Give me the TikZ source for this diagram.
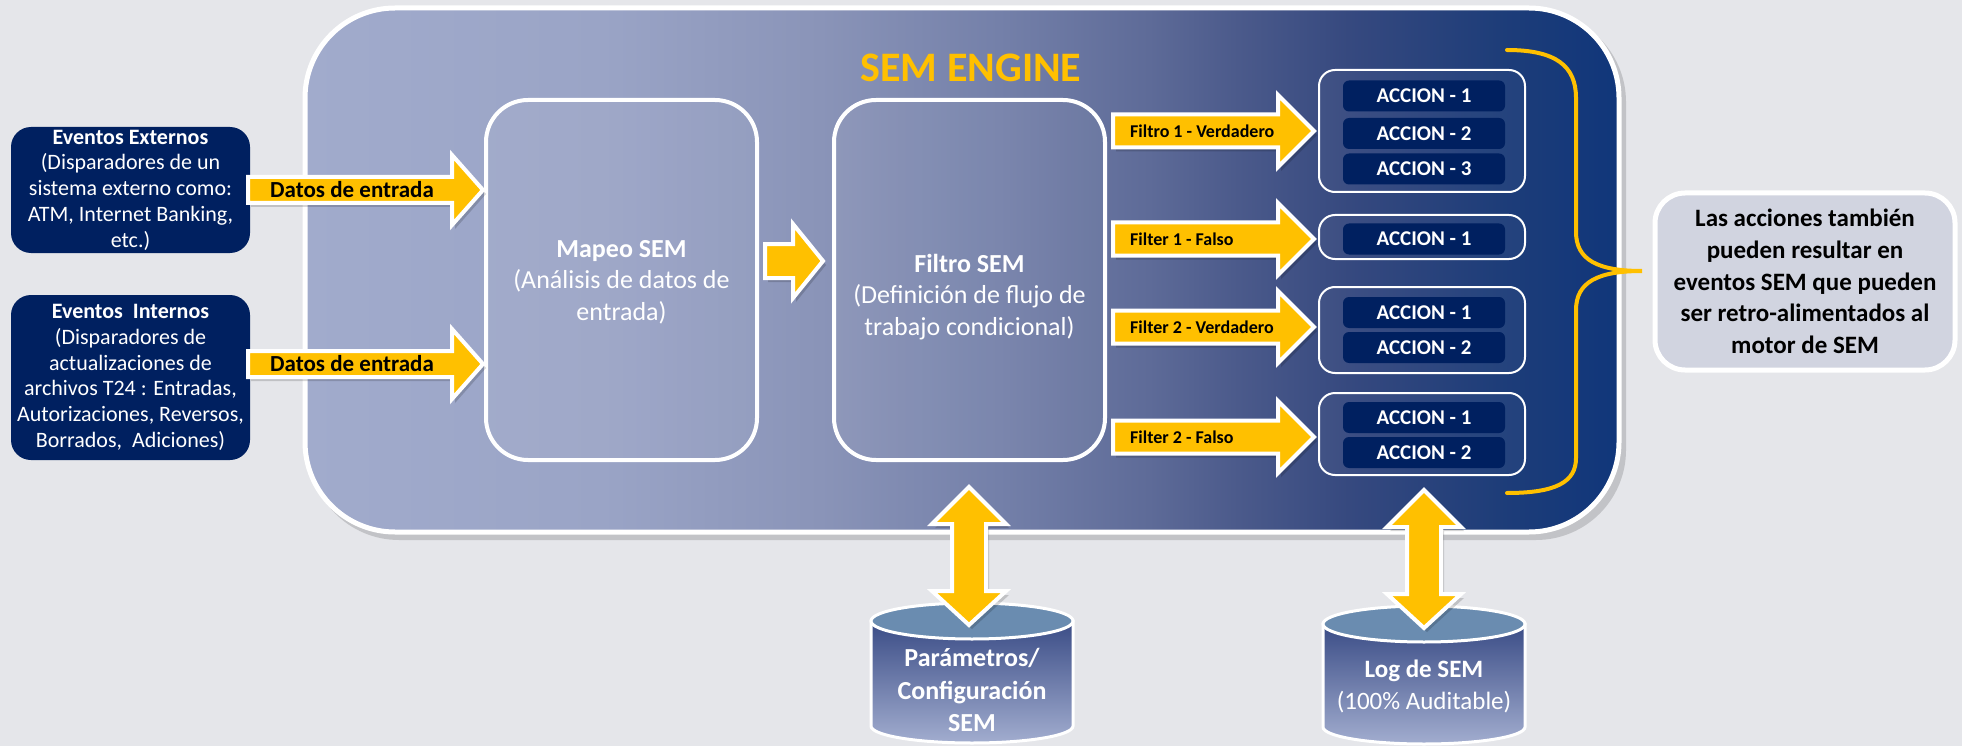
\documentclass[tikz,border=0pt]{standalone}
\usepackage{fontspec}
\setmainfont{Carlito}
\usetikzlibrary{calc}
\definecolor{navy}{HTML}{002060}
\definecolor{gold}{HTML}{FFC000}
\definecolor{bgc}{HTML}{E5E6EA}
\definecolor{notec}{HTML}{D1D4E0}
\definecolor{cyltopc}{HTML}{6A8CB0}
\definecolor{cylA}{HTML}{3A4C86}
\definecolor{cylB}{HTML}{A2ADCF}
\definecolor{s0}{HTML}{A1ABCC}
\definecolor{s1}{HTML}{9AA4C6}
\definecolor{s2}{HTML}{8A94B8}
\definecolor{s3}{HTML}{7480A9}
\definecolor{s4}{HTML}{5E6B98}
\definecolor{s5}{HTML}{4B5A8B}
\definecolor{s6}{HTML}{36497F}
\definecolor{s7}{HTML}{1E3D79}
\definecolor{s8}{HTML}{10367A}
\pgfdeclarehorizontalshading{semgrad}{100bp}{color(0bp)=(s0); color(25bp)=(s0); color(36.3bp)=(s1); color(44.6bp)=(s2); color(51.4bp)=(s3); color(57.1bp)=(s4); color(60.5bp)=(s5); color(64.7bp)=(s6); color(70.4bp)=(s7); color(75bp)=(s8); color(100bp)=(s8)}
\tikzset{
  evbox/.style={fill=navy, rounded corners=20pt, text=white, align=center, font=\fontsize{22}{25.7}\selectfont, inner sep=0pt},
  enginebox/.style={shade, shading=semgrad, draw=white, line width=5pt, rounded corners=90pt, inner sep=0pt},
  innerbox/.style={draw=white, line width=4pt, rounded corners=42pt, fill=white, fill opacity=0.05, inner sep=0pt},
  boxtext/.style={text=white, align=center, font=\fontsize{26}{31.5}\selectfont, inner sep=0pt},
  grpbox/.style={draw=white, line width=2pt, rounded corners=16pt, fill=white, fill opacity=0.03, inner sep=0pt, minimum width=206pt},
  actbox/.style={fill=navy, rounded corners=6pt, text=white, font=\bfseries\fontsize{21}{24}\selectfont, minimum width=162pt, minimum height=31pt, inner sep=0pt},
  blk/.style={fill=gold, draw=white, line width=4pt, line join=miter},
  blkshadow/.style={fill=black, fill opacity=0.16, shift={(3pt,-4pt)}},
  arrlbl/.style={font=\bfseries\fontsize{23}{26}\selectfont, anchor=west, inner sep=0pt},
  flbl/.style={font=\bfseries\fontsize{18}{21}\selectfont, anchor=west, inner sep=0pt},
  notebox/.style={fill=notec, draw=white, line width=5pt, rounded corners=30pt, align=center, font=\bfseries\fontsize{25}{31.6}\selectfont, inner sep=0pt},
  bracestyle/.style={draw=gold, line width=4pt, line cap=round},
  cylbody/.style={top color=cylA, bottom color=cylB, draw=white, line width=3pt},
  cyltop/.style={fill=cyltopc, draw=white, line width=3pt},
  cyltext/.style={text=white, align=center, inner sep=0pt},
}
% right-pointing block arrow: x0, xbase, xtip, y, shaft half, head half
\newcommand{\rblock}[6]{%
  \path[blkshadow] (#1,#4-#5) -- (#2,#4-#5) -- (#2,#4-#6) -- (#3,#4) -- (#2,#4+#6) -- (#2,#4+#5) -- (#1,#4+#5) -- cycle;
  \path[blk] (#1,#4-#5) -- (#2,#4-#5) -- (#2,#4-#6) -- (#3,#4) -- (#2,#4+#6) -- (#2,#4+#5) -- (#1,#4+#5) -- cycle;}
% vertical double arrow: x, ytip top, ybase top, ybase bottom, ytip bottom, shaft half, head half
\newcommand{\vdbl}[7]{%
  \path[blkshadow] (#1,#2) -- (#1+#7,#3) -- (#1+#6,#3) -- (#1+#6,#4) -- (#1+#7,#4) -- (#1,#5) -- (#1-#7,#4) -- (#1-#6,#4) -- (#1-#6,#3) -- (#1-#7,#3) -- cycle;
  \path[blk] (#1,#2) -- (#1+#7,#3) -- (#1+#6,#3) -- (#1+#6,#4) -- (#1+#7,#4) -- (#1,#5) -- (#1-#7,#4) -- (#1-#6,#4) -- (#1-#6,#3) -- (#1-#7,#3) -- cycle;}
% cylinder: cx, y top centre, y bottom centre, x radius
\newcommand{\cyl}[4]{%
  \path[cylbody] (#1-#4,#2) -- (#1-#4,#3) arc[start angle=180, end angle=360, x radius=#4pt, y radius=17pt] -- (#1+#4,#2) -- cycle;
  \path[cyltop] (#1,#2) ellipse[x radius=#4pt, y radius=18pt];}
\begin{document}
\begin{tikzpicture}[x=1pt, y=-1pt]
\useasboundingbox (0,0) rectangle (1962,746);
\fill[bgc] (0,0) rectangle (1962,746);
% engine container
\fill[black, opacity=0.15, rounded corners=90pt] (309,12) rectangle (1626,540);
\node[enginebox, minimum width=1314pt, minimum height=524pt] (engine) at (962,270) {};
\node[font=\bfseries\fontsize{42}{46}\selectfont, text=gold, inner sep=0pt] (title) at (971,68) {SEM ENGINE};
% event boxes
\node[evbox, minimum width=239pt, minimum height=126pt] (ext) at (130.5,190) {\textbf{Eventos Externos}\\(Disparadores de un\\sistema externo como:\\ATM, Internet Banking,\\etc.)};
\node[evbox, minimum width=239pt, minimum height=165pt] (int) at (130.5,377.5) {\textbf{Eventos\ \ Internos}\\(Disparadores de\\actualizaciones de\\archivos T24 : Entradas,\\Autorizaciones, Reversos,\\Borrados,\ \ Adiciones)};
% mapeo / filtro
\node[innerbox, minimum width=271pt, minimum height=360pt] (map) at (621.5,280) {};
\node[boxtext] (maptxt) at (621.5,282) {\textbf{Mapeo SEM}\\(Análisis de datos de\\entrada)};
\node[innerbox, minimum width=271pt, minimum height=360pt] (fil) at (969.5,280) {};
\node[boxtext] (filtxt) at (969.5,297) {\textbf{Filtro SEM}\\(Definición de flujo de\\trabajo condicional)};
% input arrows
\rblock{248}{452}{483}{190}{13}{35}
\node[arrlbl] (d1) at (270,190) {Datos de entrada};
\rblock{248}{452}{483}{364}{13}{35}
\node[arrlbl] (d2) at (270,364) {Datos de entrada};
\rblock{765}{793}{823}{261}{17}{37}
% filter arrows
\rblock{1113}{1278}{1314}{131}{16.5}{36}
\node[flbl] (f1) at (1130,131) {Filtro 1 - Verdadero};
\rblock{1113}{1278}{1314}{239}{16.5}{36}
\node[flbl] (f2) at (1130,239) {Filter 1 - Falso};
\rblock{1113}{1278}{1314}{327}{16.5}{36}
\node[flbl] (f3) at (1130,327) {Filter 2 - Verdadero};
\rblock{1113}{1278}{1314}{437}{16.5}{36}
\node[flbl] (f4) at (1130,437) {Filter 2 - Falso};
% action groups
\node[grpbox, minimum height=122pt] (g1) at (1422,131) {};
\node[actbox] (a11) at (1424,96) {ACCION - 1};
\node[actbox] (a12) at (1424,133.5) {ACCION - 2};
\node[actbox] (a13) at (1424,169) {ACCION - 3};
\node[grpbox, minimum height=44pt] (g2) at (1422,237) {};
\node[actbox] (a21) at (1424,239) {ACCION - 1};
\node[grpbox, minimum height=86pt] (g3) at (1422,330) {};
\node[actbox] (a31) at (1424,312.5) {ACCION - 1};
\node[actbox] (a32) at (1424,347.5) {ACCION - 2};
\node[grpbox, minimum height=82pt] (g4) at (1422,434) {};
\node[actbox] (a41) at (1424,417.5) {ACCION - 1};
\node[actbox] (a42) at (1424,452.5) {ACCION - 2};
% brace
\coordinate (btop) at (1507,50);
\coordinate (btip) at (1642,271);
\coordinate (bbot) at (1507,493);
\draw[bracestyle] (btop) .. controls (1556,50) and (1576,66) .. (1576,98) -- (1576,232) .. controls (1576,260) and (1598,271) .. (btip) .. controls (1598,271) and (1576,282) .. (1576,310) -- (1576,458) .. controls (1576,482) and (1556,493) .. (bbot);
% note
\node[notebox, minimum width=300pt, minimum height=177pt] (note) at (1805,281.5) {Las acciones también\\pueden resultar en\\eventos SEM que pueden\\ser retro-alimentados al\\motor de SEM};
% databases
\cyl{972}{621}{726}{101}
\node[cyltext, font=\bfseries\fontsize{26}{32.5}\selectfont] (db1) at (972,690) {Parámetros/\\Configuración\\SEM};
\cyl{1424}{624}{727}{101}
\node[cyltext, font=\fontsize{25}{32}\selectfont] (db2) at (1424,686) {\textbf{Log de SEM}\\(100\% Auditable)};
% double arrows
\vdbl{969}{487}{524}{591}{625}{17}{37}
\vdbl{1424}{490}{527}{594}{628}{17}{37}
\end{tikzpicture}
\end{document}
